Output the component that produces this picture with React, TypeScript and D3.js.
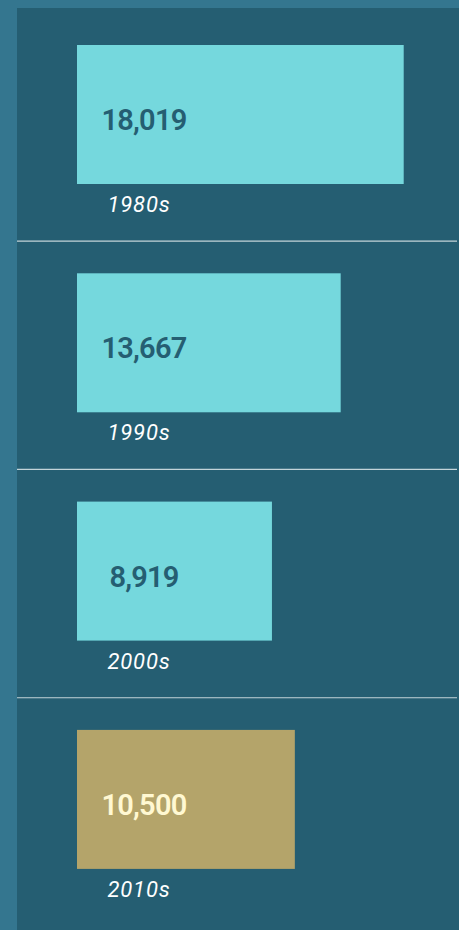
import React from "react";
import * as d3 from "d3";

const decades: string[] = ["1980s", "1990s", "2000s", "2010s"];
const counts: number[] = [18019, 13667, 8919, 10500];
const highlight: string[] = ["2010s"];

const W = 459;
const H = 930;

export default function App() {
  const x = d3.scaleLinear().domain([0, 18019]).range([65.8, 326.7]);
  const y = d3
    .scaleBand<string>()
    .domain(decades)
    .range([45, 45 + 3 * 228.3 + 139])
    .paddingInner(1 - 139 / 228.3)
    .paddingOuter(0);
  const fmt = d3.format(",");
  const bw = y.bandwidth();
  const step = y.step();

  return (
    <svg
      width={W}
      height={H}
      style={{ position: "fixed", left: 0, top: 0, display: "block" }}
    >
      <rect x={0} y={0} width={W} height={H} fill="#34768f" />
      <rect x={17} y={8} width={W - 17} height={H - 8} fill="#255e72" />
      {decades.slice(0, -1).map((d) => {
        const yy = (y(d) as number) + bw + (step - bw) * 0.64;
        return (
          <line
            key={"sep" + d}
            x1={17}
            x2={457}
            y1={yy}
            y2={yy}
            stroke="#c3d4d9"
            strokeWidth={1.2}
          />
        );
      })}
      {decades.map((d, i) => {
        const top = y(d) as number;
        const hl = highlight.includes(d);
        return (
          <g key={d}>
            <rect
              x={77}
              y={top}
              width={x(counts[i])}
              height={bw}
              fill={hl ? "#b4a46a" : "#75d8dd"}
            />
            <text
              x={144}
              y={top + 85}
              textAnchor="middle"
              fontFamily="Roboto, sans-serif"
              fontWeight={600}
              fontSize={29}
              letterSpacing={-0.8}
              fill={hl ? "#fff8d2" : "#255e72"}
            >
              {fmt(counts[i])}
            </text>
            <text
              x={139}
              y={top + bw + 28}
              textAnchor="middle"
              fontFamily="Roboto, sans-serif"
              fontStyle="italic"
              fontSize={22}
              letterSpacing={0.8}
              fill="#ffffff"
            >
              {d}
            </text>
          </g>
        );
      })}
    </svg>
  );
}
